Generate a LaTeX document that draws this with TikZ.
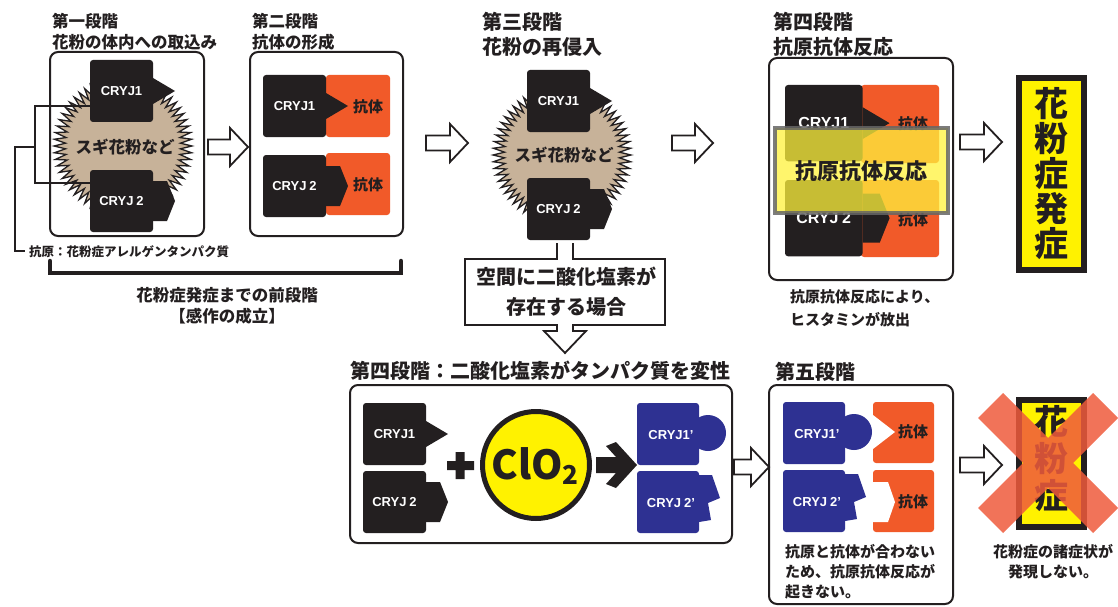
\documentclass[tikz,border=0pt]{standalone}
\usepackage{fontspec}
\setmainfont{Noto Sans CJK JP}
\newfontfamily\tagfont{Liberation Sans}
\usetikzlibrary{shapes.geometric}

\definecolor{ink}{HTML}{231F20}
\definecolor{abody}{HTML}{F15A29}
\definecolor{pollen}{HTML}{C7B299}
\definecolor{denat}{HTML}{2E3192}
\definecolor{warn}{HTML}{FFF200}
\definecolor{glow}{RGB}{255,242,60}
\definecolor{cross}{HTML}{EF5A3C}

\tikzset{
  stage/.style={rounded corners=8pt, draw=ink, line width=2pt, fill=white},
  title/.style={anchor=west, inner sep=0, text=ink, font=\fontsize{16.5}{20}\selectfont\bfseries},
  bigtitle/.style={title, font=\fontsize{20}{24}\selectfont\bfseries},
  caption/.style={inner sep=0, text=ink, font=\fontsize{15}{20}\selectfont\bfseries},
  tag/.style={inner sep=0, text=white, font=\tagfont\fontsize{13}{13}\selectfont\bfseries},
  abtag/.style={inner sep=0, text=ink, font=\fontsize{15}{15}\selectfont\bfseries},
  hollow/.style={draw=ink, line width=1.8pt, fill=white, line join=miter},
  burst/.style={star, star points=64, star point ratio=1.2, minimum size=138pt,
    fill=pollen, draw=ink, line width=1.3pt, inner sep=0},
}

\begin{document}
\begin{tikzpicture}[x=1pt, y=-1pt]
\useasboundingbox (0,0) rectangle (1118,607);

% titles of the stages
\node[title] (t1) at (52,21) {第一段階};
\node[title] (t1s) at (52,42) {花粉の体内への取込み};
\node[title] (t2) at (252,21) {第二段階};
\node[title] (t2s) at (252,42) {抗体の形成};
\node[bigtitle] (t3) at (482,22) {第三段階};
\node[bigtitle] (t3s) at (482,47) {花粉の再侵入};
\node[bigtitle] (t4) at (773,22) {第四段階};
\node[bigtitle] (t4s) at (773,47) {抗原抗体反応};
\node[bigtitle] (t4b) at (350,371) {第四段階：二酸化塩素がタンパク質を変性};
\node[bigtitle] (t5) at (775,372) {第五段階};

% frames
\foreach \a/\b/\c/\d in {50/52/204/236, 250/52/403/236, 769/58/953/280,
                         350/385/732/543, 769/385/953/604}
  \draw[stage] (\a,\b) rectangle (\c,\d);

% pollen grains
\node[burst] (pol1) at (123,146) {};
\node[burst] (pol3) at (562,155) {};
\node[caption, font=\fontsize{16.5}{20}\selectfont\bfseries] (pol1t) at (125,147) {スギ花粉など};
\node[caption, font=\fontsize{16.5}{20}\selectfont\bfseries] (pol3t) at (564,155) {スギ花粉など};

% bracket marking the antigens
\draw[ink, line width=2pt] (90,106) -| (35,183) -- (90,183);
\draw[ink, line width=2pt] (35,147) -| (15,251) -- (25,251);
\node[caption, anchor=west, font=\fontsize{12.5}{14}\selectfont\bfseries] (agn) at (29,252)
  {抗原：花粉症アレルゲンタンパク質};

% antibodies
\foreach \x/\y/\w/\h in {326/75/64/62, 326/153/64/62, 861/85/78/78, 861/180/78/77,
                         873/402/61/61, 873/470/61/62}
  \fill[abody, rounded corners=3pt] (\x,\y) rectangle ++(\w,\h);
% notches of the antibodies that no longer fit
\fill[white] (873,415) -- (895,432) -- (873,449) -- cycle;
\fill[white] (873,482) -- (888,482) -- (895,502) -- (888,522) -- (873,522) -- cycle;

% CRYJ1 with its pointed end
\foreach \x/\y/\s [count=\i] in {90/60/1, 263/75/1, 527/70/1, 363/403/1, 785/85/1.23}{
  \begin{scope}[shift={(\x,\y)}, scale=\s]
    \fill[ink, rounded corners=3pt] (0,0) rectangle (63,62);
    \fill[ink] (63,18) -- (85,31) -- (63,44) -- cycle;
    \node[tag, scale=\s] (ja\i) at (31.5,31) {CRYJ1};
  \end{scope}
}
% CRYJ2 with its blunt end
\foreach \x/\y/\s [count=\i] in {90/170/1, 263/155/1, 527/178/1, 363/471/1, 785/180/1.23}{
  \begin{scope}[shift={(\x,\y)}, scale=\s]
    \fill[ink, rounded corners=3pt] (0,0) rectangle (63,62);
    \fill[ink] (63,11) -- (77,11) -- (85,31) -- (77,51) -- (63,51) -- cycle;
    \node[tag, scale=\s] (jb\i) at (31.5,31) {CRYJ\hspace{3pt}2};
  \end{scope}
}
% denatured proteins
\foreach \x/\y [count=\i] in {637/403, 783/402}{
  \begin{scope}[shift={(\x,\y)}]
    \fill[denat, rounded corners=3pt] (0,0) rectangle (62,62);
    \fill[denat] (71,30) circle (18);
    \node[tag] (da\i) at (34,32) {CRYJ1’};
  \end{scope}
}
\foreach \x/\y [count=\i] in {637/471, 783/470}{
  \begin{scope}[shift={(\x,\y)}]
    \fill[denat, rounded corners=3pt] (0,0) rectangle (62,62);
    \fill[denat] (62,4) -- (75,4) -- (83,27) -- (71,32) -- (74,49) -- (62,51) -- cycle;
    \node[tag] (db\i) at (34,32) {CRYJ\hspace{3pt}2’};
  \end{scope}
}

\foreach \x/\y [count=\i] in {368/107, 368/185, 913/124, 913/220, 913/432, 913/502}
  \node[abtag] (ab\i) at (\x,\y) {抗体};

% reaction highlighted over the fourth stage
\fill[glow, opacity=.75] (775,128) rectangle (948,213);
\draw[black!60, line width=4pt, opacity=.85] (775,128) rectangle (948,213);
\node[caption, font=\fontsize{22}{24}\selectfont\bfseries] (react) at (861,171) {抗原抗体反応};

% captions
\node[caption, anchor=west] (c4a) at (790,297) {抗原抗体反応により、};
\node[caption, anchor=west] (c4b) at (790,320) {ヒスタミンが放出};
\node[caption, anchor=west] (c5a) at (785,552) {抗原と抗体が合わない};
\node[caption, anchor=west] (c5b) at (785,572) {ため、抗原抗体反応が};
\node[caption, anchor=west] (c5c) at (785,592) {起きない。};
\node[caption] (c6a) at (1053,552) {花粉症の諸症状が};
\node[caption] (c6b) at (1053,572) {発現しない。};

% bracket under the first two stages
\draw[ink, line width=4.5pt, line cap=round] (50,261) -- (50,273) -- (401,273) -- (401,261);
\node[caption, font=\fontsize{16.5}{20}\selectfont\bfseries] (pre1) at (227,295) {花粉症発症までの前段階};
\node[caption, font=\fontsize{16.5}{20}\selectfont\bfseries] (pre2) at (227,316) {【感作の成立】};

% step arrows
\foreach \x/\y/\l in {208/147/40, 426/143/42, 672/143/41, 960/142/42, 734/467/35, 960/465/42}
  \draw[hollow] (\x,\y-7.5) -- (\x+\l-18,\y-7.5) -- (\x+\l-18,\y-19) -- (\x+\l,\y)
    -- (\x+\l-18,\y+19) -- (\x+\l-18,\y+7.5) -- (\x,\y+7.5) -- cycle;

% downward arrow carrying the condition
\draw[hollow] (557,243) -- (557,259) -- (465,259) -- (465,325) -- (557,325) -- (557,331)
  -- (544,331) -- (565,353) -- (586,331) -- (573,331) -- (573,325) -- (665,325)
  -- (665,259) -- (573,259) -- (573,243);
\node[caption, align=center, font=\fontsize{20}{30}\selectfont\bfseries] (cond) at (566,292)
  {空間に二酸化塩素が\\存在する場合};

% plus, chlorine dioxide and result arrow
\fill[ink] (455.5,452) rectangle (464.5,479) (447,461) rectangle (474,470);
\draw[ink, line width=5pt, fill=warn] (536,465) circle (53.5);
\node[inner sep=0, text=ink, font=\fontsize{40}{40}\selectfont\bfseries] (clo) at (535,466)
  {ClO\raisebox{-5pt}{\fontsize{26}{26}\selectfont 2}};
\fill[ink] (596,457) -- (616,457) -- (606,446) -- (616,442) -- (637,465) -- (616,488)
  -- (606,484) -- (616,473) -- (596,473) -- cycle;

% symptoms shown / not shown
\draw[ink, line width=6pt, fill=warn] (1019,78) rectangle (1084,270);
\foreach \c [count=\i] in {花,粉,症,発,症}
  \node[inner sep=0, text=ink, font=\fontsize{34}{34}\selectfont\bfseries] (sy\i) at (1051,69+35*\i) {\c};
\draw[ink, line width=6pt, fill=warn] (1019,400) rectangle (1084,527);
\foreach \c [count=\i] in {花,粉,症}
  \node[inner sep=0, text=ink, font=\fontsize{34}{34}\selectfont\bfseries] (sn\i) at (1051,385+37*\i) {\c};
\fill[cross, opacity=.85] (978,418) -- (1003,393) -- (1118,508) -- (1093,533) -- cycle
  (1093,393) -- (1118,418) -- (1003,533) -- (978,508) -- cycle;
\end{tikzpicture}
\end{document}
